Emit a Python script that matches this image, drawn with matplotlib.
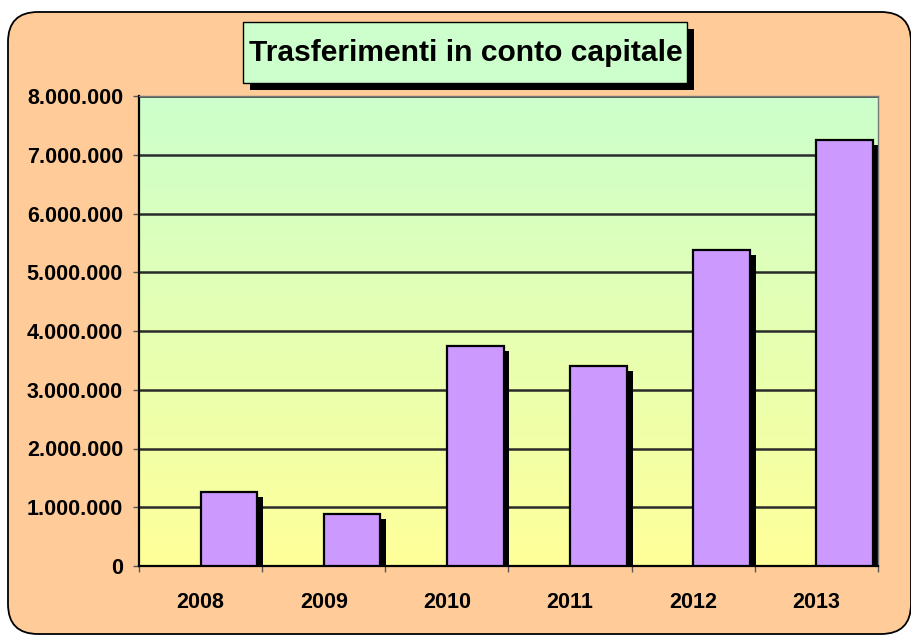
import numpy as np
import matplotlib.pyplot as plt
from matplotlib.patches import FancyBboxPatch, Rectangle

# data
years = ['2008', '2009', '2010', '2011', '2012', '2013']
values = [1260000, 890000, 3750000, 3410000, 5380000, 7250000]
y_ticks = [0, 1000000, 2000000, 3000000, 4000000, 5000000, 6000000, 7000000, 8000000]
title = 'Trasferimenti in conto capitale'

plt.rcParams['font.family'] = ['Liberation Sans', 'DejaVu Sans']

W, H = 912, 636
fig = plt.figure(figsize=(W / 100, H / 100), dpi=100)
fig.patch.set_facecolor('white')

# background layer in pixel units
bg = fig.add_axes([0, 0, 1, 1], zorder=0)
bg.set_xlim(0, W)
bg.set_ylim(H, 0)
bg.axis('off')
bg.add_patch(FancyBboxPatch((8, 12), 903, 622, boxstyle='round,pad=0,rounding_size=30',
                            fc='#FFCC99', ec='black', lw=1.3))
# title box with shadow
bg.add_patch(Rectangle((250, 29), 444, 61, fc='black', ec='none'))
bg.add_patch(Rectangle((243, 22), 444, 61, fc='#CCFFCC', ec='black', lw=1))
bg.text(466, 53, title, ha='center', va='center', fontsize=21.6, fontweight='bold')

# main chart
ax = fig.add_axes([139 / W, 1 - 566 / H, (878 - 139) / W, (566 - 96) / H], zorder=1)
ax.set_xlim(-0.5, len(years) - 0.5)
ax.set_ylim(0, 8000000)

grad = np.linspace(0, 1, 256).reshape(-1, 1)
top = np.array([204, 255, 204]) / 255
bot = np.array([255, 255, 153]) / 255
img = bot + (top - bot) * grad[:, :, None]
ax.imshow(img, extent=[-0.5, len(years) - 0.5, 0, 8000000], origin='lower',
          aspect='auto', zorder=0)

for t in y_ticks[1:]:
    ax.axhline(t, color='#2a2a2a', lw=1.8, zorder=1)

x = np.arange(len(years))
vals = np.array(values)
ax.bar(x + 0.048, vals - 85000, width=0.46, align='edge', color='black', zorder=2)
ax.bar(x, vals, width=0.46, align='edge', color='#CC99FF', edgecolor='black',
       linewidth=1.6, zorder=3)

ax.set_yticks(y_ticks)
ax.set_yticklabels([f'{v:,}'.replace(',', '.') for v in y_ticks],
                   fontsize=15.5, fontweight='bold')
ax.set_xticks(x)
ax.set_xticklabels(years, fontsize=15.5, fontweight='bold')
ax.set_xticks(np.arange(-0.5, len(years)), minor=True)
ax.tick_params(axis='x', which='major', length=0, pad=19)
ax.tick_params(axis='x', which='minor', length=4.5, width=1, color='#555555')
ax.tick_params(axis='y', length=4.5, width=1, color='#555555', pad=7)

for s in ['left', 'bottom']:
    ax.spines[s].set_linewidth(1.6)
    ax.spines[s].set_color('black')
for s in ['top', 'right']:
    ax.spines[s].set_linewidth(1)
    ax.spines[s].set_color('#777777')

fig.savefig('out.png', dpi=100)
